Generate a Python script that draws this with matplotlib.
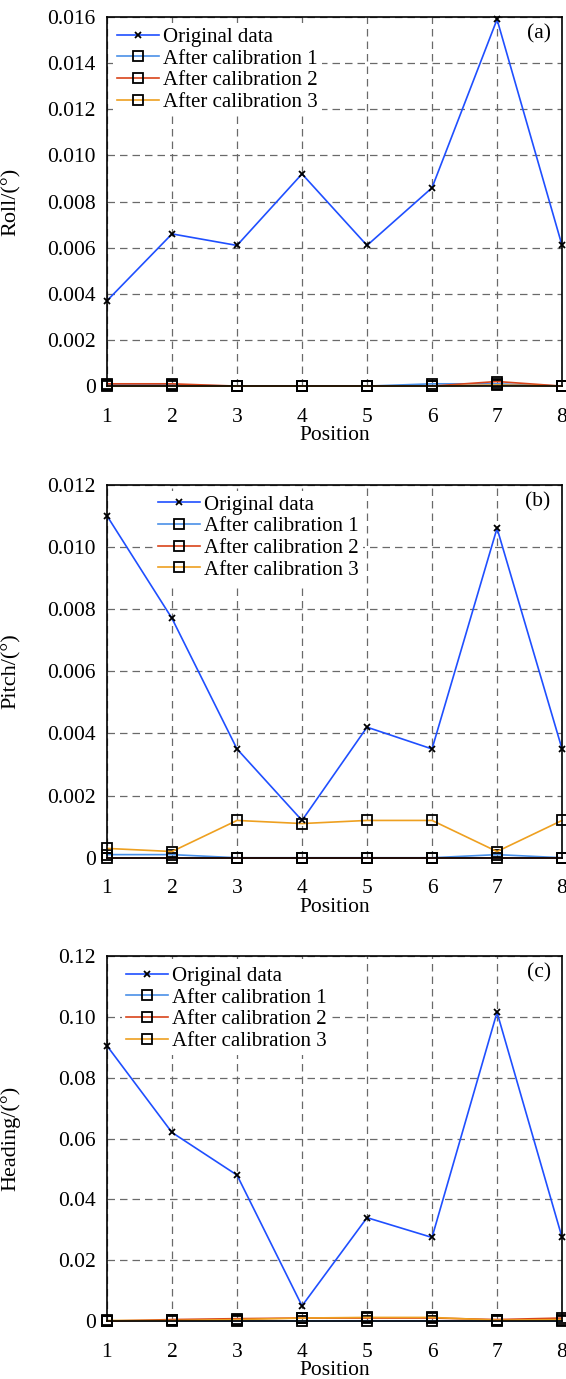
import matplotlib
matplotlib.use('Agg')
import matplotlib.pyplot as plt
import numpy as np

plt.rcParams['font.family'] = ['Liberation Serif', 'DejaVu Serif']
plt.rcParams['mathtext.fontset'] = 'stix'

positions = [1, 2, 3, 4, 5, 6, 7, 8]
labels = ['Original data', 'After calibration 1', 'After calibration 2', 'After calibration 3']
colors = ['#1f4fff', '#4a90e8', '#d9441a', '#eea020']

# (a) Roll
roll_orig = [0.0037, 0.0066, 0.0061, 0.0092, 0.0061, 0.0086, 0.0159, 0.0061]
roll_c1 = [0.00005, 0.00005, 0.0, 0.0, 0.0, 0.0001, 0.0001, 0.0]
roll_c2 = [0.0001, 0.0001, 0.0, 0.0, 0.0, 0.0, 0.0002, 0.0]
roll_c3 = [0.0, 0.0, 0.0, 0.0, 0.0, 0.0, 0.00005, 0.0]

# (b) Pitch
pitch_orig = [0.0110, 0.0077, 0.0035, 0.0012, 0.0042, 0.0035, 0.0106, 0.0035]
pitch_c1 = [0.0001, 0.0001, 0.0, 0.0, 0.0, 0.0, 0.0001, 0.0]
pitch_c2 = [0.0, 0.0, 0.0, 0.0, 0.0, 0.0, 0.0, 0.0]
pitch_c3 = [0.0003, 0.0002, 0.0012, 0.0011, 0.0012, 0.0012, 0.0002, 0.0012]

# (c) Heading
head_orig = [0.0905, 0.062, 0.048, 0.005, 0.034, 0.0275, 0.1015, 0.0275]
head_c1 = [0.0, 0.0, 0.0, 0.0, 0.0, 0.0, 0.0, 0.0]
head_c2 = [0.0, 0.0005, 0.0008, 0.001, 0.001, 0.001, 0.0005, 0.001]
head_c3 = [0.0002, 0.0002, 0.0005, 0.001, 0.0012, 0.0012, 0.0003, 0.0005]

panels = [
    dict(name='Roll/(°)', tag='(a)', data=[roll_orig, roll_c1, roll_c2, roll_c3],
         ymax=0.016, step=0.002, dec=3, rect=[0.189, 0.720, 0.804, 0.2676], leg=(0.0, 1.0)),
    dict(name='Pitch/(°)', tag='(b)', data=[pitch_orig, pitch_c1, pitch_c2, pitch_c3],
         ymax=0.012, step=0.002, dec=3, rect=[0.189, 0.378, 0.804, 0.2705], leg=(0.09, 1.0)),
    dict(name='Heading/(°)', tag='(c)', data=[head_orig, head_c1, head_c2, head_c3],
         ymax=0.12, step=0.02, dec=2, rect=[0.189, 0.042, 0.804, 0.2647], leg=(0.02, 1.0)),
]

fig = plt.figure(figsize=(5.66, 13.79), dpi=100)

for p in panels:
    ax = fig.add_axes(p['rect'])
    orig, c1, c2, c3 = p['data']
    ax.plot(positions, orig, color=colors[0], lw=1.2, marker='x', ms=5, mec='k', mew=1.3,
            label=labels[0], clip_on=False, zorder=5)
    for vals, col, lab in zip([c1, c2, c3], colors[1:], labels[1:]):
        ax.plot(positions, vals, color=col, lw=1.2, marker='s', ms=7, mfc='none', mec='k', mew=1.3,
                label=lab, clip_on=False, zorder=4)
    ax.set_xlim(1, 8)
    ax.set_ylim(0, p['ymax'])
    ax.set_xticks(positions)
    yt = np.arange(0, p['ymax'] + p['step'] / 2, p['step'])
    ax.set_yticks(yt)
    ax.set_yticklabels(['0' if v == 0 else f"{v:.{p['dec']}f}" for v in yt])
    ax.tick_params(labelsize=15.5, length=0)
    ax.tick_params(axis='x', pad=15.5)
    ax.tick_params(axis='y', pad=8)
    ax.grid(True, ls=(0, (6, 4)), color='#6a6a6a', lw=0.9, zorder=0)
    for s in ax.spines.values():
        s.set_linewidth(1.2)
        s.set_zorder(6)
    ax.set_xlabel('Position', fontsize=15.5, labelpad=-0.5)
    ax.set_ylabel(p['name'], fontsize=16)
    ax.yaxis.set_label_coords(-0.19, 0.5)
    leg = ax.legend(loc='upper left', bbox_to_anchor=p['leg'], fontsize=15, frameon=True,
                    edgecolor='none', facecolor='white', framealpha=1.0, fancybox=False,
                    borderpad=0.2, labelspacing=0.1, handlelength=2.0, handletextpad=0.2,
                    borderaxespad=0.3)
    leg.set_zorder(7)
    ax.text(0.975, 0.955, p['tag'], transform=ax.transAxes, ha='right', va='center', fontsize=15.5, zorder=8)

fig.savefig('out.png', dpi=100)
